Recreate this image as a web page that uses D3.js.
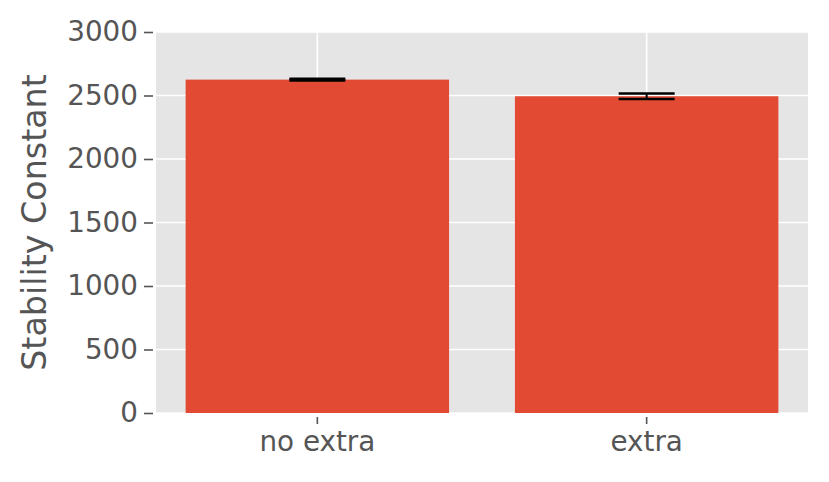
<!DOCTYPE html>
<html>
<head>
<meta charset="utf-8"/>
<title>Stability Constant</title>
<script src="https://cdn.jsdelivr.net/npm/d3@7/dist/d3.min.js"></script>
<style>
  body { margin: 0; background: #fff; }
  text { font-family: 'DejaVu Sans', sans-serif; fill: #555555; }
</style>
</head>
<body>
<div id="chart"></div>
<script>
// data
var categories = ["no extra", "extra"];
var values = [2625, 2494];
var errors = [6, 22];
var yTicks = [0, 500, 1000, 1500, 2000, 2500, 3000];

var W = 829, H = 482;
var margin = {left: 156, top: 32, right: 21, bottom: 69};
var width = W - margin.left - margin.right,
    height = H - margin.top - margin.bottom;

var svg = d3.select("#chart").append("svg")
    .attr("width", W).attr("height", H);

var g = svg.append("g")
    .attr("transform", "translate(" + margin.left + "," + margin.top + ")");

var x = d3.scaleBand()
    .domain(categories)
    .range([0, width])
    .paddingInner(0.2)
    .paddingOuter(0.09);

var y = d3.scaleLinear().domain([0, 3000]).range([height, 0]);

// background
g.append("rect").attr("width", width).attr("height", height).attr("fill", "#e5e5e5");

// grid
g.selectAll(".hgrid").data(yTicks).enter().append("line")
    .attr("x1", 0).attr("x2", width)
    .attr("y1", d => y(d)).attr("y2", d => y(d))
    .attr("stroke", "#fff").attr("stroke-width", 1.6);
g.selectAll(".vgrid").data(categories).enter().append("line")
    .attr("x1", d => x(d) + x.bandwidth() / 2).attr("x2", d => x(d) + x.bandwidth() / 2)
    .attr("y1", 0).attr("y2", height)
    .attr("stroke", "#fff").attr("stroke-width", 1.6);

// bars
g.selectAll(".bar").data(values).enter().append("rect")
    .attr("x", (d, i) => x(categories[i]))
    .attr("width", x.bandwidth())
    .attr("y", d => y(d))
    .attr("height", d => height - y(d))
    .attr("fill", "#e24a33");

// error bars
var cap = 28;
values.forEach(function(v, i) {
  var cx = x(categories[i]) + x.bandwidth() / 2;
  g.append("line").attr("x1", cx).attr("x2", cx)
    .attr("y1", y(v - errors[i])).attr("y2", y(v + errors[i]))
    .attr("stroke", "#000").attr("stroke-width", 2);
  [v - errors[i], v + errors[i]].forEach(function(e) {
    g.append("line").attr("x1", cx - cap).attr("x2", cx + cap)
      .attr("y1", y(e)).attr("y2", y(e))
      .attr("stroke", "#000").attr("stroke-width", 2.6);
  });
});

// y axis
var yAxis = g.append("g")
    .call(d3.axisLeft(y).tickValues(yTicks).tickFormat(d3.format("d")).tickSize(9).tickPadding(9));
yAxis.select(".domain").remove();
yAxis.selectAll(".tick line").attr("stroke", "#555").attr("stroke-width", 1.6)
    .attr("transform", "translate(-3,0)");
yAxis.selectAll(".tick text").style("font-size", "27.8px").attr("fill", "#555");

// x axis
var xAxis = g.append("g")
    .attr("transform", "translate(0," + height + ")")
    .call(d3.axisBottom(x).tickSize(7).tickPadding(11));
xAxis.select(".domain").remove();
xAxis.selectAll(".tick line").attr("stroke", "#555").attr("stroke-width", 1.6)
    .attr("transform", "translate(0,4)");
xAxis.selectAll(".tick text").style("font-size", "27.8px").attr("fill", "#555");

// y label
svg.append("text")
    .attr("transform", "translate(46," + (margin.top + height / 2) + ") rotate(-90)")
    .attr("text-anchor", "middle")
    .style("font-size", "33.3px")
    .text("Stability Constant");
</script>
</body>
</html>
